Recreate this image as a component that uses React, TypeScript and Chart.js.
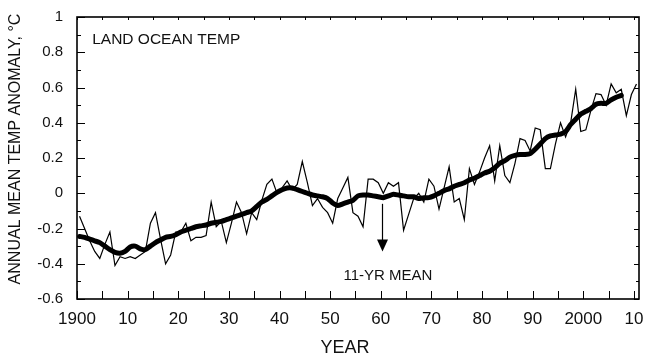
import React, { useEffect, useRef } from "react";
import { Chart, registerables } from "chart.js";

Chart.register(...registerables);

const FONT = "'Liberation Sans', Arial, Helvetica, sans-serif";

const YEARS = [
  1900, 1901, 1902, 1903, 1904, 1905, 1906, 1907, 1908, 1909,
  1910, 1911, 1912, 1913, 1914, 1915, 1916, 1917, 1918, 1919,
  1920, 1921, 1922, 1923, 1924, 1925, 1926, 1927, 1928, 1929,
  1930, 1931, 1932, 1933, 1934, 1935, 1936, 1937, 1938, 1939,
  1940, 1941, 1942, 1943, 1944, 1945, 1946, 1947, 1948, 1949,
  1950, 1951, 1952, 1953, 1954, 1955, 1956, 1957, 1958, 1959,
  1960, 1961, 1962, 1963, 1964, 1965, 1966, 1967, 1968, 1969,
  1970, 1971, 1972, 1973, 1974, 1975, 1976, 1977, 1978, 1979,
  1980, 1981, 1982, 1983, 1984, 1985, 1986, 1987, 1988, 1989,
  1990, 1991, 1992, 1993, 1994, 1995, 1996, 1997, 1998, 1999,
  2000, 2001, 2002, 2003, 2004, 2005, 2006, 2007, 2008, 2009,
  2010,
];

// Annual mean land-ocean temperature anomaly (thin line)
const ANNUAL = [
  -0.13, -0.2, -0.27, -0.33, -0.37, -0.29, -0.22, -0.41, -0.36, -0.37,
  -0.36, -0.37, -0.35, -0.33, -0.17, -0.11, -0.26, -0.4, -0.35, -0.22,
  -0.22, -0.17, -0.27, -0.25, -0.25, -0.24, -0.05, -0.19, -0.16, -0.28,
  -0.17, -0.05, -0.11, -0.23, -0.11, -0.15, -0.04, 0.05, 0.08, 0.0,
  0.03, 0.07, 0.02, 0.05, 0.18, 0.06, -0.07, -0.03, -0.08, -0.11,
  -0.17, -0.03, 0.03, 0.09, -0.11, -0.13, -0.19, 0.08, 0.08, 0.06,
  0.0, 0.06, 0.04, 0.06, -0.21, -0.12, -0.03, 0.0, -0.05, 0.08,
  0.04, -0.09, 0.03, 0.15, -0.05, -0.03, -0.15, 0.14, 0.05, 0.12,
  0.2, 0.27, 0.07, 0.27, 0.1, 0.06, 0.17, 0.31, 0.3, 0.24,
  0.37, 0.36, 0.14, 0.14, 0.28, 0.4, 0.32, 0.4, 0.59, 0.35,
  0.36, 0.47, 0.565, 0.56, 0.5, 0.62, 0.57, 0.59, 0.44, 0.56,
  0.62,
];

// 11-year running mean (thick line), 1900-2007
const MEAN11 = [
  -0.245, -0.25, -0.26, -0.27, -0.28, -0.3, -0.32, -0.335, -0.34, -0.33,
  -0.305, -0.3, -0.315, -0.32, -0.3, -0.28, -0.265, -0.25, -0.245, -0.235,
  -0.22, -0.21, -0.2, -0.19, -0.185, -0.18, -0.17, -0.165, -0.16, -0.15,
  -0.14, -0.13, -0.12, -0.11, -0.1, -0.075, -0.05, -0.035, -0.015, 0.005,
  0.02, 0.03, 0.03, 0.02, 0.01, 0.0, -0.01, -0.015, -0.02, -0.03,
  -0.055, -0.07, -0.06, -0.05, -0.04, -0.015, -0.01, -0.01, -0.015, -0.02,
  -0.025, -0.015, -0.006, -0.01, -0.015, -0.02, -0.02, -0.03, -0.025, -0.025,
  -0.015, 0.0, 0.015, 0.025, 0.04, 0.05, 0.06, 0.075, 0.085, 0.1,
  0.115, 0.125, 0.145, 0.17, 0.185, 0.205, 0.215, 0.22, 0.22, 0.225,
  0.25, 0.28, 0.31, 0.325, 0.33, 0.335, 0.35, 0.39, 0.42, 0.45,
  0.465, 0.48, 0.505, 0.51, 0.51, 0.53, 0.545, 0.555,
];

const X_TICKS = [
  1900, 1905, 1910, 1915, 1920, 1925, 1930, 1935, 1940, 1945, 1950, 1955,
  1960, 1965, 1970, 1975, 1980, 1985, 1990, 1995, 2000, 2005, 2010,
];
const X_LABELS = [
  "1900", "", "10", "", "20", "", "30", "", "40", "", "50", "",
  "60", "", "70", "", "80", "", "90", "", "2000", "", "10",
];
const Y_TICKS = [-0.6, -0.4, -0.2, 0, 0.2, 0.4, 0.6, 0.8, 1];
const Y_LABELS = ["-0.6", "-0.4", "-0.2", "0", "0.2", "0.4", "0.6", "0.8", "1"];
const Y_MINOR = [-0.5, -0.3, -0.1, 0.1, 0.3, 0.5, 0.7, 0.9];

const X_MIN = 1900;
const X_MAX = 2011;
const Y_MIN = -0.6;
const Y_MAX = 1;

const SERIES_LABEL = "LAND OCEAN TEMP";
const MEAN_LABEL = "11-YR MEAN";
const X_TITLE = "YEAR";
const Y_TITLE = "ANNUAL MEAN TEMP ANOMALY, °C";

// annotation anchors in data units
const ARROW_YEAR = 1960.3;
const ARROW_FROM = -0.06;
const ARROW_TO = -0.33;
const MEAN_LABEL_AT = { x: 1961.4, y: -0.47 };
const SERIES_LABEL_AT = { x: 1903, y: 0.87 };

const decorPlugin = {
  id: "decor",
  afterDatasetsDraw(chart: any) {
    const { ctx, chartArea: a, scales } = chart;
    const x = scales.x;
    const y = scales.y;
    ctx.save();
    ctx.strokeStyle = "#000";
    ctx.fillStyle = "#000";

    // frame
    ctx.lineWidth = 1.6;
    ctx.strokeRect(a.left, a.top, a.right - a.left, a.bottom - a.top);

    // inward ticks
    ctx.lineWidth = 1;
    X_TICKS.forEach((v) => {
      const px = Math.round(x.getPixelForValue(v)) + 0.5;
      ctx.beginPath();
      ctx.moveTo(px, a.bottom);
      ctx.lineTo(px, a.bottom - 8);
      ctx.stroke();
      ctx.beginPath();
      ctx.moveTo(px, a.top);
      ctx.lineTo(px, a.top + 3);
      ctx.stroke();
    });
    Y_TICKS.forEach((v) => {
      const py = Math.round(y.getPixelForValue(v)) + 0.5;
      ctx.beginPath();
      ctx.moveTo(a.left, py);
      ctx.lineTo(a.left + 8, py);
      ctx.stroke();
      ctx.beginPath();
      ctx.moveTo(a.right, py);
      ctx.lineTo(a.right - 5, py);
      ctx.stroke();
    });
    Y_MINOR.forEach((v) => {
      const py = Math.round(y.getPixelForValue(v)) + 0.5;
      ctx.beginPath();
      ctx.moveTo(a.left, py);
      ctx.lineTo(a.left + 4, py);
      ctx.stroke();
      ctx.beginPath();
      ctx.moveTo(a.right, py);
      ctx.lineTo(a.right - 3, py);
      ctx.stroke();
    });

    // arrow
    const ax = Math.round(x.getPixelForValue(ARROW_YEAR)) + 0.5;
    const ay0 = y.getPixelForValue(ARROW_FROM);
    const ay1 = y.getPixelForValue(ARROW_TO);
    ctx.lineWidth = 1.2;
    ctx.beginPath();
    ctx.moveTo(ax, ay0);
    ctx.lineTo(ax, ay1 - 10);
    ctx.stroke();
    ctx.beginPath();
    ctx.moveTo(ax, ay1);
    ctx.lineTo(ax - 5.5, ay1 - 12);
    ctx.lineTo(ax + 5.5, ay1 - 12);
    ctx.closePath();
    ctx.fill();

    // in-plot labels
    ctx.fillStyle = "#111";
    ctx.font = `15.5px ${FONT}`;
    ctx.textBaseline = "middle";
    ctx.textAlign = "left";
    ctx.fillText(SERIES_LABEL, x.getPixelForValue(SERIES_LABEL_AT.x), y.getPixelForValue(SERIES_LABEL_AT.y));
    ctx.font = `15px ${FONT}`;
    ctx.textAlign = "center";
    ctx.fillText(MEAN_LABEL, x.getPixelForValue(MEAN_LABEL_AT.x), y.getPixelForValue(MEAN_LABEL_AT.y));

    // axis titles
    ctx.font = `18px ${FONT}`;
    ctx.textAlign = "center";
    ctx.textBaseline = "middle";
    ctx.fillText(X_TITLE, 345, 348);
    ctx.translate(16, 149);
    ctx.rotate(-Math.PI / 2);
    ctx.font = `16px ${FONT}`;
    ctx.fillText(Y_TITLE, 0, 0);
    ctx.restore();
  },
};

export default function App() {
  const canvasRef = useRef<HTMLCanvasElement | null>(null);

  useEffect(() => {
    if (!canvasRef.current) return;
    const chart = new Chart(canvasRef.current, {
      type: "line",
      data: {
        datasets: [
          {
            label: "Annual mean",
            data: YEARS.map((yr, i) => ({ x: yr + 0.5, y: ANNUAL[i] })),
            borderColor: "#000",
            borderWidth: 1.2,
            pointRadius: 0,
            tension: 0,
          },
          {
            label: "11-yr mean",
            data: MEAN11.map((v, i) => ({ x: YEARS[i] + 0.5, y: v })),
            borderColor: "#000",
            borderWidth: 5,
            borderJoinStyle: "round",
            borderCapStyle: "round",
            pointRadius: 0,
            tension: 0.2,
          },
        ],
      },
      options: {
        animation: false,
        responsive: true,
        maintainAspectRatio: false,
        layout: { padding: { top: 17, right: 7, left: 0, bottom: 0 } },
        plugins: {
          legend: { display: false },
          tooltip: { enabled: false },
          title: { display: false },
        },
        scales: {
          x: {
            type: "linear",
            min: X_MIN,
            max: X_MAX,
            afterBuildTicks: (s: any) => {
              s.ticks = X_TICKS.map((v) => ({ value: v }));
            },
            afterFit: (s: any) => {
              s.height = 57;
              s.paddingLeft = 0;
              s.paddingRight = 0;
            },
            grid: { display: false, drawTicks: false },
            border: { display: false },
            ticks: {
              autoSkip: false,
              maxRotation: 0,
              minRotation: 0,
              padding: 10,
              color: "#111",
              font: { family: FONT, size: 17 },
              callback: (_v: any, i: number) => X_LABELS[i],
            },
          },
          y: {
            type: "linear",
            min: Y_MIN,
            max: Y_MAX,
            afterBuildTicks: (s: any) => {
              s.ticks = Y_TICKS.map((v) => ({ value: v }));
            },
            afterFit: (s: any) => {
              s.width = 77;
              s.paddingTop = 0;
              s.paddingBottom = 0;
            },
            grid: { display: false, drawTicks: false },
            border: { display: false },
            ticks: {
              autoSkip: false,
              padding: 14,
              color: "#111",
              font: { family: FONT, size: 15 },
              callback: (_v: any, i: number) => Y_LABELS[i],
            },
          },
        },
      },
      plugins: [decorPlugin],
    });
    return () => chart.destroy();
  }, []);

  return (
    <div
      style={{
        position: "fixed",
        left: 0,
        top: 0,
        width: 646,
        height: 356,
        background: "#fff",
      }}
    >
      <canvas ref={canvasRef} />
    </div>
  );
}
